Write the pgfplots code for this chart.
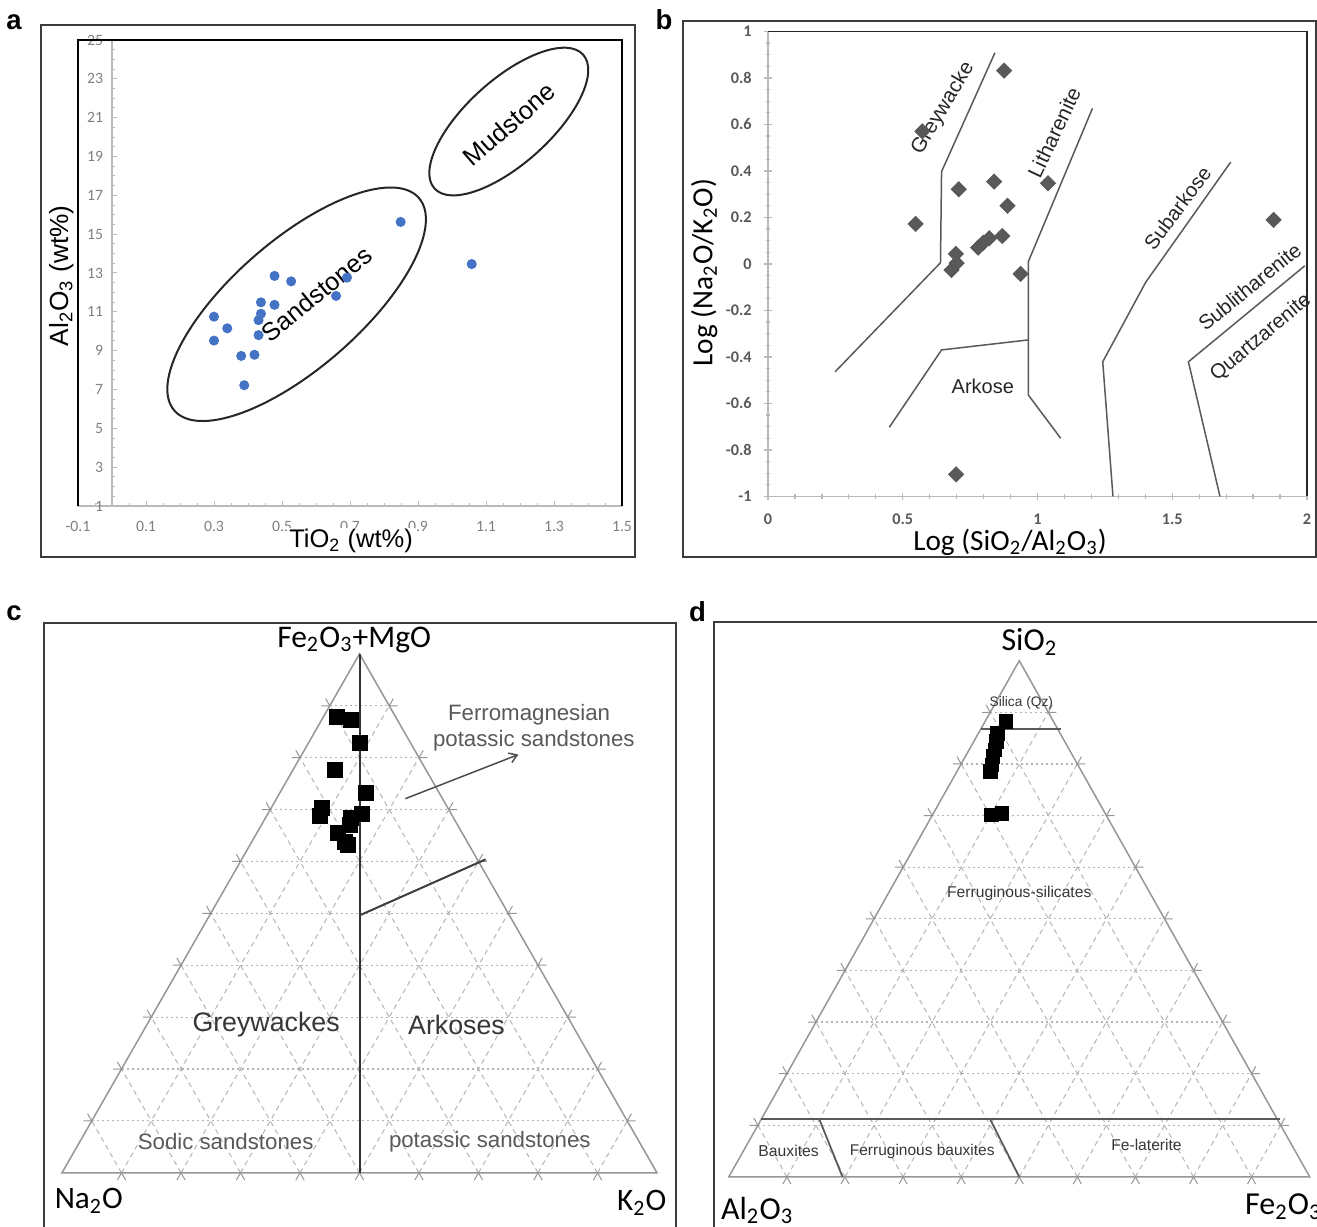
\documentclass[border=0pt]{standalone}
\usepackage{fontspec}
\setmainfont{Liberation Sans}
\newfontfamily\cali{Carlito}
\usepackage{pgfplots}
\usepackage{pgfplotstable}
\pgfplotsset{compat=1.18}
\usetikzlibrary{arrows.meta}

\definecolor{ptblue}{RGB}{68,114,196}
\definecolor{dgray}{RGB}{89,89,89}
\definecolor{edgec}{RGB}{150,150,150}
\definecolor{gridc}{RGB}{180,180,180}
\definecolor{txt}{RGB}{55,55,55}
\definecolor{framec}{RGB}{60,60,60}
\newcommand{\fsz}[1]{\fontsize{#1}{#1}\selectfont}

% panel a : TiO2 , Al2O3 (wt%)
\pgfplotstableread{
x y
0.849 15.63
1.058 13.46
0.478 12.85
0.527 12.57
0.691 12.76
0.659 11.82
0.438 11.49
0.478 11.36
0.438 10.90
0.431 10.57
0.300 10.75
0.339 10.15
0.431 9.80
0.300 9.52
0.380 8.73
0.419 8.79
0.389 7.22
}\dataA

% panel b : log(SiO2/Al2O3) , log(Na2O/K2O)
\pgfplotstableread{
x y
0.876 0.831
0.573 0.570
0.708 0.321
0.839 0.354
1.039 0.347
0.889 0.250
0.548 0.172
0.869 0.120
0.821 0.110
0.799 0.091
0.780 0.070
0.697 0.043
0.700 0.003
0.681 -0.026
0.937 -0.043
0.698 -0.905
1.876 0.189
}\dataB

% panel c : ternary (top = Fe2O3+MgO, left = Na2O, right = K2O)
\pgfplotstableread{
top left right
87.8 9.8 2.4
87.3 7.8 4.9
82.8 8.5 8.7
77.6 15.4 7.0
73.1 12.4 14.5
70.3 21.2 8.5
68.8 22.2 9.0
69.2 15.0 15.8
68.3 17.2 14.5
67.0 18.1 14.9
65.4 20.9 13.7
63.8 20.5 15.7
63.2 20.3 16.5
}\dataC

% panel d : ternary (top = SiO2, left = Al2O3, right = Fe2O3)
\pgfplotstableread{
top left right
88.2 8.2 3.6
85.9 10.8 3.3
84.3 11.8 3.9
82.7 12.8 4.5
81.4 13.8 4.8
79.8 14.8 5.4
78.5 15.7 5.8
70.1 19.7 10.2
70.4 17.8 11.8
}\dataD

\newcommand{\ternarygrid}{%
  \pgfplotsinvokeforeach{10,20,30,40,50,60,70,80,90}{%
    \draw[gridc, line width=0.45pt, dash pattern=on 0.8pt off 1.2pt] (axis cs:{##1/2},##1) -- (axis cs:{100-##1/2},##1);
    \draw[gridc, line width=0.4pt, dash pattern=on 2pt off 1.6pt] (axis cs:##1,0) -- (axis cs:{50+##1/2},{100-##1});
    \draw[gridc, line width=0.4pt, dash pattern=on 2pt off 1.6pt] (axis cs:{100-##1},0) -- (axis cs:{(100-##1)/2},{100-##1});
    \draw[edgec, line width=0.4pt] (axis cs:{##1-0.7},-1.4) -- (axis cs:##1,0) -- (axis cs:{##1+0.7},-1.4);
    \draw[edgec, line width=0.4pt] (axis cs:{##1/2-1.4},##1) -- (axis cs:{##1/2},##1) -- (axis cs:{##1/2-0.7},{##1+1.4});
    \draw[edgec, line width=0.4pt] (axis cs:{100-##1/2+1.4},##1) -- (axis cs:{100-##1/2},##1) -- (axis cs:{100-##1/2+0.7},{##1+1.4});
  }%
  \draw[edgec, line width=0.6pt] (axis cs:0,0) -- (axis cs:100,0) -- (axis cs:50,100) -- cycle;
}

\begin{document}
\begin{tikzpicture}
% panel frames
\draw[framec, line width=0.6pt] (16.4pt,267.6pt) rectangle (254pt,480.4pt);
\draw[framec, line width=0.6pt] (273.2pt,267.6pt) rectangle (526.4pt,482pt);
\draw[framec, line width=0.6pt] (17.6pt,-3pt) -- (17.6pt,241.2pt) -- (270.4pt,241.2pt) -- (270.4pt,-3pt);
\draw[framec, line width=0.6pt] (285.6pt,-3pt) -- (285.6pt,241.6pt) -- (530pt,241.6pt);
% panel letters
\node[font=\bfseries\fsz{11}] at (5.6pt,481.6pt) {a};
\node[font=\bfseries\fsz{11}] at (265.6pt,482.4pt) {b};
\node[font=\bfseries\fsz{11}] at (5.6pt,245pt) {c};
\node[font=\bfseries\fsz{11}] at (279pt,245.6pt) {d};

% ---------------- panel a ----------------
\begin{axis}[at={(31.2pt,288pt)}, anchor=south west, scale only axis,
  width=217.6pt, height=186.4pt,
  xmin=-0.1, xmax=1.5, ymin=1, ymax=25, clip=false,
  axis x line*=bottom, axis y line*=middle,
  hide obscured x ticks=false, hide obscured y ticks=false,
  axis line style={draw=gray!55, line width=0.5pt},
  xtick={-0.1,0.1,0.3,0.5,0.7,0.9,1.1,1.3,1.5},
  ytick={1,3,5,7,9,11,13,15,17,19,21,23,25},
  minor x tick num=3, minor y tick num=3,
  tick align=inside, major tick length=2pt, minor tick length=1.2pt,
  tick style={gray!55, line width=0.4pt},
  ticklabel style={font=\cali\fsz{6.3}, text=gray},
  xticklabel style={yshift=-2.5pt, /pgf/number format/fixed, /pgf/number format/precision=1},
  /pgf/number format/assume math mode=true,
]
\addplot[only marks, mark=*, mark size=1.8pt, color=ptblue] table {\dataA};
\draw[black, line width=0.7pt] (rel axis cs:0,0) -- (rel axis cs:0,1) -- (rel axis cs:1,1) -- (rel axis cs:1,0);
\draw[black!85, line width=0.8pt] (axis cs:0.543,11.39) circle [x radius=64.8pt, y radius=25.6pt, rotate=41];
\draw[black!85, line width=0.8pt] (axis cs:1.167,20.8) circle [x radius=40pt, y radius=16.8pt, rotate=42];
\node[rotate=39.5, font=\fsz{10.1}] at (axis cs:0.602,11.92) {Sandstones};
\node[rotate=41, font=\fsz{10.2}] at (axis cs:1.168,20.67) {Mudstone};
\node[anchor=base, fill=white, inner sep=0.8pt, font=\fsz{10.2}] at (rel axis cs:0.502,-0.0901) {TiO\textsubscript{2} (wt\%)};
\node[rotate=90, anchor=base, font=\fsz{10.5}] at (rel axis cs:-0.018,0.494) {Al\textsubscript{2}O\textsubscript{3} (wt\%)};
\end{axis}

% ---------------- panel b ----------------
\begin{axis}[at={(307.2pt,291.84pt)}, anchor=south west, scale only axis,
  width=215.6pt, height=186pt,
  xmin=0, xmax=2, ymin=-1, ymax=1, clip=false,
  axis line style={draw=gray!55, line width=0.6pt},
  tick pos=left, tick align=center,
  xtick={0,0.5,1,1.5,2}, minor x tick num=4,
  ytick={-1,-0.8,-0.6,-0.4,-0.2,0,0.2,0.4,0.6,0.8,1}, minor y tick num=3,
  major tick length=3pt, minor tick length=1.8pt,
  tick style={gray!55, line width=0.5pt},
  ticklabel style={font=\cali\bfseries\fsz{6.5}, text=dgray},
  xticklabel style={yshift=-2pt},
  yticklabel style={xshift=-1.5pt},
  /pgf/number format/assume math mode=true,
]
\addplot[no marks, dgray, line width=0.6pt] coordinates {(0.249,-0.464) (0.640,0.005) (0.644,0.397) (0.842,0.908)};
\addplot[no marks, dgray, line width=0.6pt] coordinates {(1.204,0.669) (0.966,0.010) (0.966,-0.564) (1.086,-0.750)};
\addplot[no marks, dgray, line width=0.6pt] coordinates {(0.450,-0.703) (0.644,-0.370) (0.966,-0.327)};
\addplot[no marks, dgray, line width=0.6pt] coordinates {(1.717,0.438) (1.402,-0.078) (1.242,-0.421) (1.280,-1.0)};
\addplot[no marks, dgray, line width=0.6pt] coordinates {(1.992,-0.008) (1.560,-0.421) (1.677,-1.0)};
\addplot[only marks, mark=square*, mark size=2.1pt, color=dgray, mark options={rotate=45}] table {\dataB};
\draw[black!85, line width=0.7pt] (rel axis cs:0,1) -- (rel axis cs:1,1) -- (rel axis cs:1,0);
\node[rotate=59.4, font=\fsz{8.3}, text=black!85] at (axis cs:0.650,0.669) {Greywacke};
\node[rotate=64.7, font=\fsz{8.3}, text=black!85] at (axis cs:1.062,0.565) {Litharenite};
\node[rotate=53, font=\fsz{8.1}, text=black!85] at (axis cs:1.519,0.240) {Subarkose};
\node[rotate=39, font=\fsz{8.2}, text=black!85] at (axis cs:1.787,-0.098) {Sublitharenite};
\node[rotate=40, font=\fsz{8.2}, text=black!85] at (axis cs:1.829,-0.317) {Quartzarenite};
\node[font=\fsz{8}, text=black!85] at (axis cs:0.797,-0.525) {Arkose};
\node[anchor=base, font=\cali\fsz{11.7}] at (rel axis cs:0.449,-0.1153) {Log (SiO\textsubscript{2}/Al\textsubscript{2}O\textsubscript{3})};
\node[rotate=90, anchor=base, font=\cali\fsz{11.7}] at (rel axis cs:-0.1032,0.481) {Log (Na\textsubscript{2}O/K\textsubscript{2}O)};
\end{axis}

% ---------------- panel c ----------------
\begin{axis}[at={(24.8pt,21.28pt)}, anchor=south west, scale only axis,
  width=238pt, height=207.56pt,
  xmin=0, xmax=100, ymin=0, ymax=100, hide axis, clip=false]
\ternarygrid
\draw[black!80, line width=0.8pt] (axis cs:50,0) -- (axis cs:50,100);
\draw[black!75, line width=0.8pt] (axis cs:50,49.6) -- (axis cs:71.2,60.4);
\draw[black!70, line width=0.6pt, -{Straight Barb[length=3pt,width=4pt]}] (axis cs:57.7,72.1) -- (axis cs:76.7,80.6);
\addplot[only marks, mark=square*, mark size=3pt, black] table[x expr={\thisrow{right}+0.5*\thisrow{top}}, y=top] {\dataC};
\node[anchor=base west, inner sep=0pt, font=\cali\fsz{12.6}] at (axis cs:36.1,101.3) {Fe\textsubscript{2}O\textsubscript{3}+MgO};
\node[anchor=base west, inner sep=0pt, font=\cali\fsz{12.5}] at (axis cs:-1.3,-6.9) {Na\textsubscript{2}O};
\node[anchor=base west, inner sep=0pt, font=\cali\fsz{12.5}] at (axis cs:93.2,-7.3) {K\textsubscript{2}O};
\node[font=\fsz{8.9}, text=black!65] at (axis cs:78.5,88.3) {Ferromagnesian};
\node[font=\fsz{8.9}, text=black!65] at (axis cs:79.3,83.3) {potassic sandstones};
\node[font=\fsz{10.7}, text=txt] at (axis cs:34.3,28.5) {Greywackes};
\node[font=\fsz{10.7}, text=txt] at (axis cs:66.3,28.5) {Arkoses};
\node[font=\fsz{8.9}, text=black!65] at (axis cs:27.5,6.0) {Sodic sandstones};
\node[font=\fsz{8.9}, text=black!65] at (axis cs:71.9,6.0) {potassic sandstones};
\end{axis}

% ---------------- panel d ----------------
\begin{axis}[at={(291.52pt,19.64pt)}, anchor=south west, scale only axis,
  width=232.36pt, height=206.48pt,
  xmin=0, xmax=100, ymin=0, ymax=100, hide axis, clip=false]
\ternarygrid
\draw[dgray, line width=0.7pt] (axis cs:5.6,11.2) -- (axis cs:94.8,11.2);
\draw[dgray, line width=0.7pt] (axis cs:15.58,11.2) -- (axis cs:19.57,0);
\draw[dgray, line width=0.7pt] (axis cs:44.97,11.2) -- (axis cs:50,0);
\draw[dgray, line width=0.7pt] (axis cs:43.4,86.8) -- (axis cs:57.1,86.8);
\addplot[only marks, mark=square*, mark size=2.7pt, black] table[x expr={\thisrow{right}+0.5*\thisrow{top}}, y=top] {\dataD};
\node[anchor=base west, inner sep=0pt, font=\cali\fsz{12.8}] at (axis cs:46.86,101.9) {SiO\textsubscript{2}};
\node[anchor=base west, inner sep=0pt, font=\cali\fsz{12.8}] at (axis cs:-1.41,-8.2) {Al\textsubscript{2}O\textsubscript{3}};
\node[anchor=base west, inner sep=0pt, font=\cali\fsz{12.8}] at (axis cs:88.8,-7.3) {Fe\textsubscript{2}O\textsubscript{3}};
\node[font=\fsz{5.5}, text=txt] at (axis cs:50.35,91.8) {Silica (Qz)};
\node[font=\fsz{6.25}, text=txt] at (axis cs:50.0,54.9) {Ferruginous-silicates};
\node[font=\fsz{6.3}, text=txt] at (axis cs:10.3,5.0) {Bauxites};
\node[font=\fsz{6.2}, text=txt] at (axis cs:33.3,5.0) {Ferruginous bauxites};
\node[font=\fsz{6.25}, text=txt] at (axis cs:71.9,6.2) {Fe-laterite};
\end{axis}

\pgfresetboundingbox
\path[use as bounding box] (0pt,0pt) rectangle (526.8pt,490.4pt);
\end{tikzpicture}
\end{document}
